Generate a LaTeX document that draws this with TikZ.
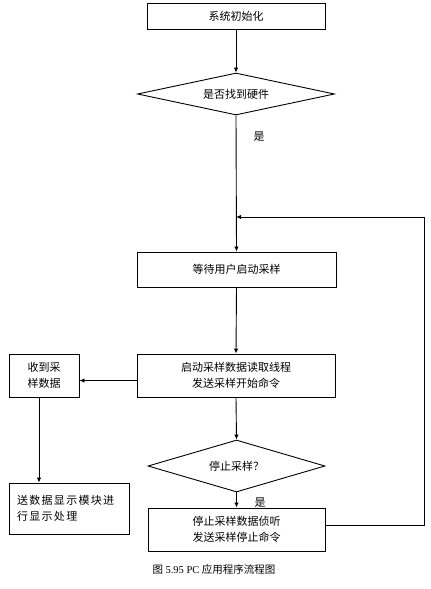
\documentclass[tikz,border=0pt]{standalone}
\usepackage{fontspec}
\setmainfont{Noto Sans CJK SC}
\newfontfamily\latinserif{Liberation Serif}
\usetikzlibrary{shapes.geometric,arrows.meta,calc}
\begin{document}
\begin{tikzpicture}[x=1pt,y=-1pt,
  box/.style={draw,line width=0.9pt,inner sep=0pt,align=center,font=\fontsize{11}{16}\selectfont},
  dia/.style={draw,line width=0.9pt,diamond,aspect=4,inner sep=0pt,font=\fontsize{11}{16}\selectfont},
  arr/.style={line width=0.9pt,-{Latex[length=5pt,width=4.5pt]}},
  ln/.style={line width=0.9pt},
  lbl/.style={font=\fontsize{11}{13}\selectfont,inner sep=0pt}]
\useasboundingbox[fill=white] (0,0) rectangle (431,589);
\node[box,minimum width=178pt,minimum height=26pt] (b1) at (236,16) {系统初始化};
\node[dia,minimum width=197pt,minimum height=42pt] (d1) at (236,94) {是否找到硬件};
\node[lbl] (y1) at (259,137) {是};
\coordinate (j) at (236,217);
\coordinate (rc) at (424,217);
\node[box,minimum width=199pt,minimum height=35pt] (b2) at (236.5,269.5) {等待用户启动采样};
\node[box,minimum width=198pt,minimum height=43pt] (b3) at (236,375.5) {启动采样数据读取线程\\发送采样开始命令};
\node[box,minimum width=70pt,minimum height=43pt] (sm) at (44,375.5) {收到采\\样数据};
\node[box,minimum width=120pt,minimum height=51pt,text width=104pt,align=left,font=\fontsize{11}{16}\selectfont\addfontfeatures{LetterSpace=12}] (disp) at (69,508.5) {送数据显示模块进\\行显示处理};
\node[dia,minimum width=177pt,minimum height=52pt] (d2) at (236.5,466) {停止采样？};
\node[box,minimum width=177pt,minimum height=43pt] (b4) at (236.5,529.5) {停止采样数据侦听\\发送采样停止命令};
\node[lbl] (y2) at (260,503) {是};
\node[lbl,font=\fontsize{10.5}{13}\selectfont] (cap) at (214,569) {图 {\latinserif 5.95 PC} 应用程序流程图};
\draw[arr] (b1.south) -- (d1.north);
\draw[arr] (d1.south) -- (b2.north);
\draw[arr] (b2.south) -- (b3.north);
\draw[arr] (b3.south) -- (d2.north);
\draw[arr] (d2.south) -- (b4.north);
\draw[arr] ([yshift=-5pt]b3.west) -- ([yshift=-5pt]sm.east);
\draw[arr] ([xshift=-5pt]sm.south) -- ([xshift=-5pt]sm.south |- disp.north);
\draw[arr] ([yshift=4.5pt]b4.east) -| (rc) -- (j);
\end{tikzpicture}
\end{document}
